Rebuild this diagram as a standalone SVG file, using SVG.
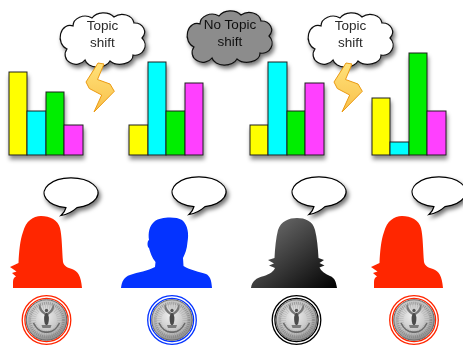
<svg xmlns="http://www.w3.org/2000/svg" xmlns:xlink="http://www.w3.org/1999/xlink" width="463" height="346" viewBox="0 0 463 346">
  <style>
    .bar { stroke: #1e1e1e; stroke-width: 1; }
    .y { fill: #ffff00; }
    .c { fill: #00ffff; }
    .g { fill: #00ee00; }
    .m { fill: #ff40ff; }
    .cloud { stroke: #111; stroke-width: 1.2; }
    .cloud-text { font-family: "Liberation Sans", Arial, sans-serif; font-size: 13.5px; fill: #2a2a2a; text-anchor: middle; }
    .bubble { fill: #fff; stroke: #000; stroke-width: 1.2; }
    .bolt { fill: url(#boltFill); stroke: #eb9a12; stroke-width: 1; stroke-linejoin: round; }
    .ring { fill: none; stroke-width: 1.3; }
  </style>
  <defs>
    <filter id="shadow" x="-30%" y="-30%" width="170%" height="180%">
      <feDropShadow dx="2" dy="3" stdDeviation="2" flood-color="#000" flood-opacity="0.55"/>
    </filter>
    <filter id="barShadow" x="-20%" y="-20%" width="140%" height="150%">
      <feDropShadow dx="1" dy="4" stdDeviation="2.2" flood-color="#000" flood-opacity="0.45"/>
    </filter>
    <linearGradient id="boltFill" x1="0" y1="0" x2="0" y2="1">
      <stop offset="0" stop-color="#ffe27a"/>
      <stop offset="1" stop-color="#f9c04a"/>
    </linearGradient>
    <linearGradient id="greyPerson" x1="0" y1="0" x2="1" y2="1">
      <stop offset="0" stop-color="#7a7a7a"/>
      <stop offset="1" stop-color="#000"/>
    </linearGradient>
    <radialGradient id="silver" cx="0.45" cy="0.4" r="0.6">
      <stop offset="0" stop-color="#eeeeee"/>
      <stop offset="0.7" stop-color="#c0c0c0"/>
      <stop offset="1" stop-color="#8a8a8a"/>
    </radialGradient>
    <!-- cloud outline, 84 x 50 -->
    <path id="cloudShape" d="M 12,13 A 12,10 0 0 1 31,5 A 13,10 0 0 1 53,4 A 12,10 0 0 1 73,10 A 10,9 0 0 1 81,25 A 10,10 0 0 1 72,42 A 13,9 0 0 1 49,48 A 13,9 0 0 1 24,47 A 10,9 0 0 1 6,36 A 9,11 0 0 1 12,13 Z"/>
    <!-- speech bubble centred on the origin -->
    <path id="bubbleShape" d="M 6,14.6 A 27,15 0 1 0 -5,14.7 Q -6,19 -10,22.5 Q -1,21 6,14.6 Z"/>
    <!-- lightning bolt -->
    <path id="boltShape" d="M 98,63 L 104,64 L 97.5,79.5 L 110,84 L 114.3,91.3 L 94,112 L 101.7,95 L 89.3,88.5 L 86,82 Z"/>
    <!-- quarter coin centred on the origin -->
    <g id="coin">
      <circle r="20.3" fill="url(#silver)" stroke="#5a5a5a" stroke-width="0.9"/>
      <circle r="16.8" fill="none" stroke="#777" stroke-width="2.8" stroke-dasharray="1 1" opacity="0.6"/>
      <circle r="13" fill="none" stroke="#999" stroke-width="5" stroke-dasharray="0.8 1.4" opacity="0.45"/>
      <path d="M -1.5,-5 C -7,-8 -9,-13 -6.5,-16 C -5.5,-11 -3.5,-9 -0.5,-7 Z" fill="#777"/>
      <path d="M 1.5,-5 C 7,-8 9,-13 6.5,-16 C 5.5,-11 3.5,-9 0.5,-7 Z" fill="#777"/>
      <ellipse cx="0" cy="-1" rx="2.4" ry="6.2" fill="#4a4a4a"/>
      <circle cx="0" cy="-9.5" r="1.7" fill="#555"/>
      <path d="M -5,5 L 5,5 L 4,8 L -4,8 Z" fill="#7a7a7a"/>
      <path d="M -13,3 Q -8,13 0,12 Q 8,13 13,3" fill="none" stroke="#6a6a6a" stroke-width="1.6"/>
    </g>
  </defs>

  <!-- thought clouds -->
  <g id="cloud-topic-shift-1" filter="url(#shadow)">
    <use xlink:href="#cloudShape" class="cloud" fill="#fff" transform="translate(61,13)"/>
    <text class="cloud-text" x="102.5" y="30">Topic</text>
    <text class="cloud-text" x="102.5" y="47">shift</text>
  </g>
  <g id="cloud-no-topic-shift" filter="url(#shadow)">
    <use xlink:href="#cloudShape" class="cloud" fill="#8c8c8c" transform="translate(188,11)"/>
    <text class="cloud-text" x="230" y="29" style="fill:#111">No Topic</text>
    <text class="cloud-text" x="230" y="46" style="fill:#111">shift</text>
  </g>
  <g id="cloud-topic-shift-2" filter="url(#shadow)">
    <use xlink:href="#cloudShape" class="cloud" fill="#fff" transform="translate(309,13)"/>
    <text class="cloud-text" x="350.5" y="30">Topic</text>
    <text class="cloud-text" x="350.5" y="47">shift</text>
  </g>

  <!-- lightning bolts -->
  <g id="bolt-1"><use xlink:href="#boltShape" class="bolt"/></g>
  <g id="bolt-2"><use xlink:href="#boltShape" class="bolt" transform="translate(248,0)"/></g>

  <!-- topic distributions -->
  <g id="chart-1" filter="url(#barShadow)">
    <rect class="bar y" x="9" y="72" width="18" height="83"/>
    <rect class="bar c" x="27" y="111" width="19" height="44"/>
    <rect class="bar g" x="46" y="92" width="18" height="63"/>
    <rect class="bar m" x="64" y="125" width="19" height="30"/>
  </g>
  <g id="chart-2" filter="url(#barShadow)">
    <rect class="bar y" x="129" y="125" width="19" height="30"/>
    <rect class="bar c" x="148" y="62" width="18" height="93"/>
    <rect class="bar g" x="166" y="111" width="19" height="44"/>
    <rect class="bar m" x="185" y="83" width="18" height="72"/>
  </g>
  <g id="chart-3" filter="url(#barShadow)">
    <rect class="bar y" x="250" y="125" width="18" height="30"/>
    <rect class="bar c" x="268" y="62" width="19" height="93"/>
    <rect class="bar g" x="287" y="111" width="18" height="44"/>
    <rect class="bar m" x="305" y="83" width="19" height="72"/>
  </g>
  <g id="chart-4" filter="url(#barShadow)">
    <rect class="bar y" x="372" y="98" width="18" height="57"/>
    <rect class="bar c" x="390" y="142" width="19" height="13"/>
    <rect class="bar g" x="409" y="53" width="18" height="102"/>
    <rect class="bar m" x="427" y="111" width="19" height="44"/>
  </g>

  <!-- speech bubbles -->
  <g id="bubble-1" filter="url(#shadow)"><use xlink:href="#bubbleShape" class="bubble" transform="translate(71,193)"/></g>
  <g id="bubble-2" filter="url(#shadow)"><use xlink:href="#bubbleShape" class="bubble" transform="translate(199,192)"/></g>
  <g id="bubble-3" filter="url(#shadow)"><use xlink:href="#bubbleShape" class="bubble" transform="translate(319,192)"/></g>
  <g id="bubble-4" filter="url(#shadow)"><use xlink:href="#bubbleShape" class="bubble" transform="translate(439,192)"/></g>

  <!-- speakers -->
  <g id="speaker-1">
    <path id="femaleShape" fill="#ff2600" d="M 13,288 L 13,282 C 13,279 14,277.5 16,276.5 L 12,273 L 16.5,271.5 L 10,267 L 18.5,263 C 19,252 20,240 23,232 C 26,221 33,216 41,216 C 50,216 58,220 60,228 C 62,236 62,250 63,262 C 64,266 68,268 72,269 C 78,271 81,276 82,288 Z"/>
  </g>
  <g id="speaker-2">
    <path fill="#0433ff" d="M 121,288 C 122,281 124,277 130,275 C 138,272 148,271 155,267 L 155.5,262 C 152,258 150,252 149,248 C 147,247 147,241 149,240 C 148,233 149,226 155,221 C 160,217 176,216 182,220 C 188,225 189,234 187.5,242 C 187,249 185,254 183,258 L 183.5,266 C 190,270 200,272 206,274 C 210,276 211.5,280 212,288 Z"/>
  </g>
  <g id="speaker-3">
    <path fill="url(#greyPerson)" d="M 251,288 C 252,281 256,278 264,276 C 270,274 274,271 275,268 L 269,265.5 L 274,263.5 L 268,260 L 274.5,258 C 275,248 276,238 278,230 C 281,221 289,218 297,218 C 305,218 313,221 315,230 C 317,238 318,248 318.5,258 L 324,260 L 319.5,263 L 324.5,265.5 L 319.5,267.5 C 321,271 325,274 330,276 C 335,278 336,282 337,288 Z"/>
  </g>
  <g id="speaker-4">
    <use xlink:href="#femaleShape" transform="translate(361,0)"/>
  </g>

  <!-- coins -->
  <g id="coin-1" transform="translate(46.5,320)">
    <circle class="ring" r="24.3" stroke="#ff2600"/>
    <circle class="ring" r="21.6" stroke="#ff2600"/>
    <use xlink:href="#coin"/>
  </g>
  <g id="coin-2" transform="translate(172,320)">
    <circle class="ring" r="24.3" stroke="#0433ff"/>
    <circle class="ring" r="21.6" stroke="#0433ff"/>
    <use xlink:href="#coin"/>
  </g>
  <g id="coin-3" transform="translate(296.5,320)">
    <circle class="ring" r="24.3" stroke="#000"/>
    <circle class="ring" r="21.6" stroke="#000"/>
    <use xlink:href="#coin"/>
  </g>
  <g id="coin-4" transform="translate(414,320)">
    <circle class="ring" r="24.3" stroke="#ff2600"/>
    <circle class="ring" r="21.6" stroke="#ff2600"/>
    <use xlink:href="#coin"/>
  </g>
</svg>
